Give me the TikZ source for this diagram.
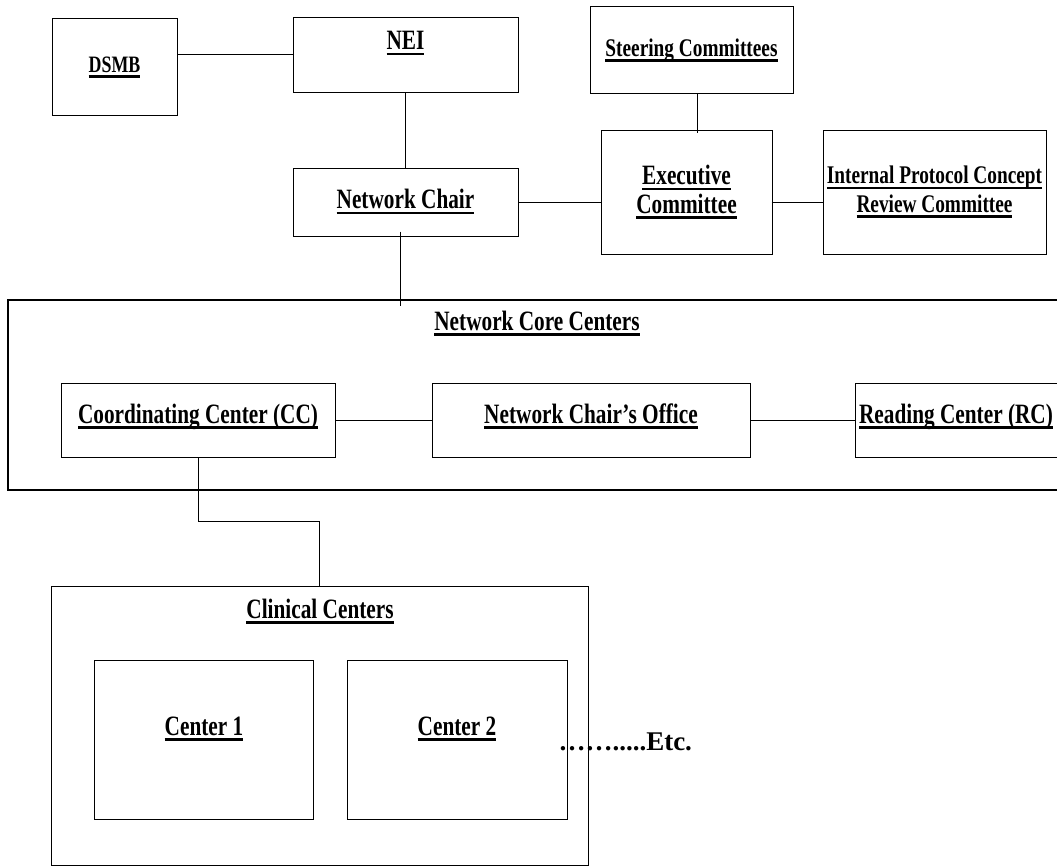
\documentclass[tikz,border=0pt]{standalone}
\usepackage{fontspec}
\setmainfont{Liberation Serif}[FakeStretch=0.76]
\newfontfamily\etcfont{Liberation Serif}
\newcommand{\ulx}[1]{\leavevmode\setbox0=\hbox{#1}\rlap{\copy0}\rule[-5.5pt]{\wd0}{2.5pt}}
\begin{document}
\begin{tikzpicture}[x=1pt, y=-1pt, line width=1pt,
	box/.style={draw, rectangle, inner sep=0pt, align=center, font=\bfseries\fontsize{28}{28.5}\selectfont},
	lbl/.style={inner sep=0pt, anchor=base, font=\bfseries\fontsize{28}{28.5}\selectfont}]
	\path[use as bounding box, clip] (0,0) rectangle (1057,867);
	\node (DSMB) at (114.5, 67)	[box, minimum width=125pt, minimum height=96pt, font=\bfseries\fontsize{23.5}{26}\selectfont]	{\ulx{DSMB}};
	\node (NEI) at (405.5, 55)	[box, minimum width=225pt, minimum height=74pt]	{};
	\node (NEIt) at (405.5, 50)	[lbl]	{\ulx{NEI}};
	\node (Chair) at (405.5, 202)	[box, minimum width=225pt, minimum height=68pt]	{\ulx{Network Chair}};
	\node (Steer) at (691.5, 50)	[box, minimum width=203pt, minimum height=86pt, font=\bfseries\fontsize{25.4}{28}\selectfont]	{\ulx{Steering Committees}};
	\node (Exec) at (686.5, 192)	[box, minimum width=171pt, minimum height=124pt]	{\ulx{Executive}\\\ulx{Committee}};
	\node (IPCR) at (934.5, 192)	[box, minimum width=223pt, minimum height=124pt, font=\bfseries\fontsize{25.4}{28.5}\selectfont]	{\ulx{Internal Protocol Concept}\\\ulx{Review Committee}};
	\node (Core) at (554, 395)	[box, minimum width=1092pt, minimum height=190pt, line width=1.3pt]	{};
	\node (Coret) at (537, 330)	[lbl]	{\ulx{Network Core Centers}};
	\node (CC) at (198, 420)	[box, minimum width=274pt, minimum height=74pt]	{};
	\node (CCt) at (198, 423)	[lbl]	{\ulx{Coordinating Center (CC)}};
	\node (Office) at (591, 420)	[box, minimum width=318pt, minimum height=74pt]	{};
	\node (Officet) at (591, 423)	[lbl]	{\ulx{Network Chair’s Office}};
	\node (RC) at (967.5, 420)	[box, minimum width=225pt, minimum height=74pt]	{};
	\node (RCt) at (956, 423)	[lbl]	{\ulx{Reading Center (RC)}};
	\node (Clin) at (319.5, 725.5)	[box, minimum width=537pt, minimum height=279pt]	{};
	\node (Clint) at (320, 618)	[lbl]	{\ulx{Clinical Centers}};
	\node (C1) at (203.5, 739.5)	[box, minimum width=219pt, minimum height=159pt]	{};
	\node (C1t) at (204, 735)	[lbl]	{\ulx{Center 1}};
	\node (C2) at (457, 739.5)	[box, minimum width=220pt, minimum height=159pt]	{};
	\node (C2t) at (457, 735)	[lbl]	{\ulx{Center 2}};
	\node (Etc) at (558, 750)	[inner sep=0pt, anchor=base west, font=\etcfont\bfseries\fontsize{27}{28}\selectfont]	{…….....Etc.};
	\draw (NEI.west -| DSMB.east) -- (NEI.west);
	\draw (NEI.south) -- (Chair.north);
	\draw ([xshift=5.5pt]Steer.south) -- ([xshift=5.5pt, yshift=-3pt]Steer.south |- Exec.north);
	\draw (Chair.east) -- (Chair.east -| Exec.west);
	\draw ([xshift=-1pt]Exec.east |- Chair.east) -- (IPCR.west |- Chair.east);
	\draw ([xshift=-5.5pt, yshift=5pt]Chair.south) -- ([xshift=-5.5pt, yshift=-7pt]Chair.south |- Core.north);
	\draw (CC.east) -- (Office.west);
	\draw (Office.east) -- (RC.west);
	\draw (CC.south) -- ++(0,64) -| (Clin.north);
\end{tikzpicture}
\end{document}
